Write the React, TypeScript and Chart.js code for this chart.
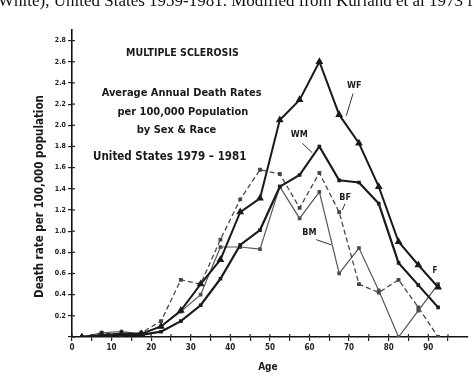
import React, { useEffect, useRef } from "react";
import { Chart, registerables } from "chart.js";

Chart.register(...registerables);

// Age-group midpoints (years)
const ages = [2.5, 7.5, 12.5, 17.5, 22.5, 27.5, 32.5, 37.5, 42.5, 47.5, 52.5, 57.5, 62.5, 67.5, 72.5, 77.5, 82.5, 87.5, 92.5];
// Average annual death rates per 100,000
const wf = [0, 0.02, 0.03, 0.03, 0.1, 0.25, 0.5, 0.73, 1.18, 1.31, 2.05, 2.24, 2.6, 2.1, 1.83, 1.42, 0.9, 0.68, 0.47];
const wm = [0, 0.01, 0.02, 0.02, 0.05, 0.15, 0.3, 0.55, 0.87, 1.01, 1.42, 1.53, 1.8, 1.48, 1.46, 1.26, 0.7, 0.49, 0.28];
const bf = [0, 0.04, 0.02, 0.04, 0.15, 0.54, 0.5, 0.92, 1.3, 1.58, 1.54, 1.22, 1.55, 1.18, 0.5, 0.42, 0.54, 0.28, 0];
const bm = [0, 0.04, 0.05, 0.03, 0.1, 0.24, 0.4, 0.85, 0.85, 0.83, 1.42, 1.12, 1.37, 0.6, 0.84, 0.44, 0, 0.25, 0.5];

const xTicks = [0, 5, 10, 15, 20, 25, 30, 35, 40, 45, 50, 55, 60, 65, 70, 75, 80, 85, 90, 95];
const yTicks = [0, 0.2, 0.4, 0.6, 0.8, 1.0, 1.2, 1.4, 1.6, 1.8, 2.0, 2.2, 2.4, 2.6, 2.8];

const captionText = "White), United States 1959-1981. Modified from Kurland et al 1973 f";
const yTitle = "Death rate per 100,000 population";
const xTitle = "Age";
const titleLines = [
  "MULTIPLE SCLEROSIS",
  "Average Annual Death Rates",
  "per 100,000 Population",
  "by Sex & Race",
  "United States 1979 \u2013 1981",
];
// text blocks anchored in data coordinates [age, rate]
const titleAnchors = [
  [27.9, 2.68],
  [27.7, 2.3],
  [28.0, 2.12],
  [26.4, 1.95],
  [24.7, 1.7],
];
const seriesLabels = ["WF", "WM", "BF", "BM", "F"];
const seriesLabelAnchors = [
  [71.3, 2.37],
  [57.4, 1.91],
  [69.0, 1.32],
  [60.0, 0.99],
  [91.7, 0.62],
];
const leaders = [
  [71.0, 2.3, 69.3, 2.09],
  [58.2, 1.83, 60.7, 1.74],
  [69.0, 1.26, 68.3, 1.2],
  [61.7, 0.92, 65.5, 0.87],
];

const FONT = "'DejaVu Sans Condensed', 'DejaVu Sans', sans-serif";

const annotPlugin = {
  id: "annot",
  beforeDraw(chart: any) {
    const ctx = chart.ctx;
    ctx.save();
    ctx.fillStyle = "#ffffff";
    ctx.fillRect(0, 0, chart.width, chart.height);
    ctx.restore();
  },
  afterDraw(chart: any) {
    const ctx = chart.ctx;
    const xs = chart.scales.x;
    const ys = chart.scales.y;
    ctx.save();
    // inner halves of tick marks (crossing the axes)
    ctx.strokeStyle = "#222";
    ctx.lineWidth = 1.2;
    const y0 = ys.getPixelForValue(0);
    xTicks.forEach((v) => {
      const px = xs.getPixelForValue(v);
      ctx.beginPath();
      ctx.moveTo(px, y0);
      ctx.lineTo(px, y0 - 3);
      ctx.stroke();
    });
    const x0 = xs.getPixelForValue(0);
    yTicks.forEach((v) => {
      const py = ys.getPixelForValue(v);
      ctx.beginPath();
      ctx.moveTo(x0, py);
      ctx.lineTo(x0 + 3, py);
      ctx.stroke();
    });

    ctx.fillStyle = "#1a1a1a";
    ctx.textAlign = "center";
    ctx.textBaseline = "middle";
    // title block
    const sizes = [10.5, 11, 11, 11, 11.5];
    titleLines.forEach((t, i) => {
      ctx.font = "bold " + sizes[i] + "px " + FONT;
      const [a, r] = titleAnchors[i];
      ctx.fillText(t, xs.getPixelForValue(a), ys.getPixelForValue(r));
    });
    // series labels
    ctx.font = "bold 9px " + FONT;
    seriesLabels.forEach((t, i) => {
      if (i === 4) ctx.font = "bold 8px " + FONT;
      const [a, r] = seriesLabelAnchors[i];
      ctx.fillText(t, xs.getPixelForValue(a), ys.getPixelForValue(r));
    });
    ctx.strokeStyle = "#333";
    ctx.lineWidth = 1;
    leaders.forEach(([a1, r1, a2, r2]) => {
      ctx.beginPath();
      ctx.moveTo(xs.getPixelForValue(a1), ys.getPixelForValue(r1));
      ctx.lineTo(xs.getPixelForValue(a2), ys.getPixelForValue(r2));
      ctx.stroke();
    });

    // x axis title
    ctx.font = "bold 10px " + FONT;
    ctx.fillText(xTitle, (xs.left + xs.right) / 2 - 2, chart.height - 15);

    // y axis title
    ctx.save();
    ctx.translate(40, (ys.top + ys.bottom) / 2 + 13);
    ctx.rotate(-Math.PI / 2);
    ctx.font = "bold 11.5px " + FONT;
    ctx.fillText(yTitle, 0, 0);
    ctx.restore();

    // cut-off caption at the very top
    ctx.font = "17px 'Liberation Serif', serif";
    ctx.textAlign = "left";
    ctx.textBaseline = "alphabetic";
    ctx.fillStyle = "#111";
    ctx.fillText(captionText, -2, 6);
    ctx.restore();
  },
};

export default function App() {
  const ref = useRef<HTMLCanvasElement>(null);
  useEffect(() => {
    if (!ref.current) return;
    const pts = (arr: number[]) => ages.map((a, i) => ({ x: a, y: arr[i] }));
    const chart = new Chart(ref.current, {
      type: "line",
      data: {
        datasets: [
          {
            label: "WF",
            data: pts(wf),
            borderColor: "#1a1a1a",
            backgroundColor: "#1a1a1a",
            borderWidth: 2,
            pointStyle: "triangle",
            pointRadius: 2.5,
            tension: 0,
          },
          {
            label: "WM",
            data: pts(wm),
            borderColor: "#1a1a1a",
            backgroundColor: "#1a1a1a",
            borderWidth: 2.2,
            pointStyle: "rect",
            pointRadius: 1,
            tension: 0,
          },
          {
            label: "BF",
            data: pts(bf),
            borderColor: "#4a4a4a",
            backgroundColor: "#333",
            borderWidth: 1.3,
            borderDash: [5, 3],
            pointStyle: "rect",
            pointRadius: 1.8,
            tension: 0,
          },
          {
            label: "BM",
            data: pts(bm),
            borderColor: "#555",
            backgroundColor: "#333",
            borderWidth: 1.2,
            pointStyle: "rect",
            pointRadius: 1.8,
            tension: 0,
          },
        ],
      },
      options: {
        animation: false,
        responsive: false,
        maintainAspectRatio: false,
        layout: { padding: { top: 30, right: 5, left: 0, bottom: 0 } },
        plugins: { legend: { display: false }, tooltip: { enabled: false } },
        scales: {
          x: {
            type: "linear",
            min: 0,
            max: 100,
            afterBuildTicks: (s: any) => {
              s.ticks = xTicks.map((v) => ({ value: v }));
            },
            afterFit: (s: any) => {
              s.height = 45;
            },
            ticks: {
              autoSkip: false,
              maxRotation: 0,
              padding: 2,
              color: "#222",
              font: { family: FONT, size: 8, weight: "bold" },
              callback: (v: any) => (Number(v) % 10 === 0 ? String(v) : ""),
            },
            grid: { display: true, drawOnChartArea: false, drawTicks: true, tickLength: 4, color: "#222", lineWidth: 1.2 },
            border: { display: true, color: "#111", width: 1.6 },
          },
          y: {
            type: "linear",
            min: 0,
            max: 2.9,
            afterBuildTicks: (s: any) => {
              s.ticks = yTicks.map((v) => ({ value: v }));
            },
            afterFit: (s: any) => {
              s.width = 72;
            },
            ticks: {
              autoSkip: false,
              padding: 2,
              color: "#222",
              font: { family: FONT, size: 7, weight: "bold" },
              callback: (v: any) => (Number(v) === 0 ? "" : Number(v).toFixed(1)),
            },
            grid: { display: true, drawOnChartArea: false, drawTicks: true, tickLength: 4, color: "#222", lineWidth: 1.2 },
            border: { display: true, color: "#111", width: 1.6 },
          },
        },
      },
      plugins: [annotPlugin],
    });
    return () => chart.destroy();
  }, []);
  return (
    <div style={{ position: "fixed", left: 0, top: 0, width: 474, height: 382, background: "#fff" }}>
      <canvas ref={ref} width={474} height={382} style={{ display: "block" }} />
    </div>
  );
}
